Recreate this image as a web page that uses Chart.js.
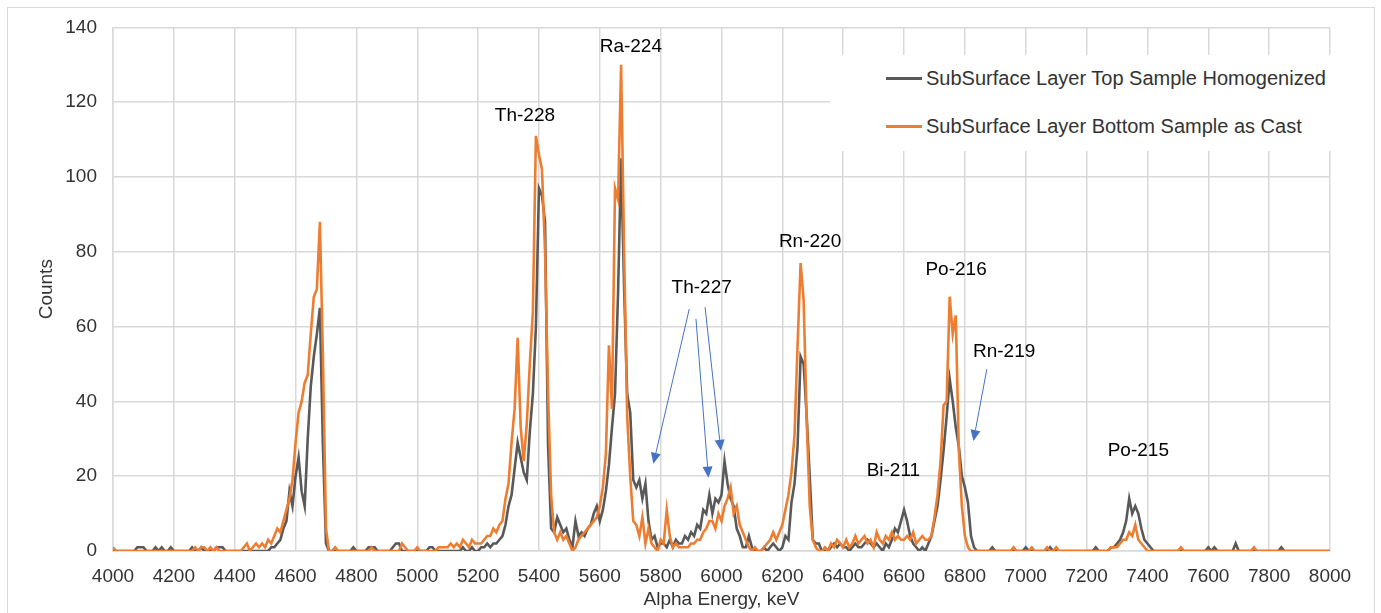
<!DOCTYPE html>
<html>
<head>
<meta charset="utf-8">
<script src="https://cdn.jsdelivr.net/npm/chart.js@4.4.1/dist/chart.umd.min.js"></script>
<style>
    body { margin: 0; background: #fff; font-family: 'Liberation Sans', Arial, sans-serif; }
    #wrap { position: relative; width: 1381px; height: 613px; overflow: hidden; }
    #frame { position: absolute; left: 7px; top: 7px; width: 1366px; height: 700px; border: 1px solid #d9d9d9; pointer-events: none; }
    #legend { position: absolute; left: 830px; top: 55px; width: 510px; height: 96px; background: #fff; color: #333; font-size: 20px; }
    .item { position: absolute; left: 56px; height: 24px; }
    .item span.swatch { position: absolute; left: 0; top: 11px; width: 36px; height: 2.5px; }
    .item span.txt { position: absolute; left: 40px; top: 0; white-space: nowrap; line-height: 24px; }
</style>
</head>
<body>
<div id="wrap">
    <canvas id="spectrum"></canvas>
    <div id="frame"></div>
    <div id="legend"></div>
</div>
<script>
// Energie-Kanaele (keV)
const energies = [
    4000,4010,4020,4030,4040,4050,4060,4070,4080,4090,
    4100,4110,4120,4130,4140,4150,4160,4170,4180,4190,
    4200,4210,4220,4230,4240,4250,4260,4270,4280,4290,
    4300,4310,4320,4330,4340,4350,4360,4370,4380,4390,
    4400,4410,4420,4430,4440,4450,4460,4470,4480,4490,
    4500,4510,4520,4530,4540,4550,4560,4570,4580,4590,
    4600,4610,4620,4630,4640,4650,4660,4670,4680,4690,
    4700,4710,4720,4730,4740,4750,4760,4770,4780,4790,
    4800,4810,4820,4830,4840,4850,4860,4870,4880,4890,
    4900,4910,4920,4930,4940,4950,4960,4970,4980,4990,
    5000,5010,5020,5030,5040,5050,5060,5070,5080,5090,
    5100,5110,5120,5130,5140,5150,5160,5170,5180,5190,
    5200,5210,5220,5230,5240,5250,5260,5270,5280,5290,
    5300,5310,5320,5330,5340,5350,5360,5370,5380,5390,
    5400,5410,5420,5430,5440,5450,5460,5470,5480,5490,
    5500,5510,5520,5530,5540,5550,5560,5570,5580,5590,
    5600,5610,5620,5630,5640,5650,5660,5670,5680,5690,
    5700,5710,5720,5730,5740,5750,5760,5770,5780,5790,
    5800,5810,5820,5830,5840,5850,5860,5870,5880,5890,
    5900,5910,5920,5930,5940,5950,5960,5970,5980,5990,
    6000,6010,6020,6030,6040,6050,6060,6070,6080,6090,
    6100,6110,6120,6130,6140,6150,6160,6170,6180,6190,
    6200,6210,6220,6230,6240,6250,6260,6270,6280,6290,
    6300,6310,6320,6330,6340,6350,6360,6370,6380,6390,
    6400,6410,6420,6430,6440,6450,6460,6470,6480,6490,
    6500,6510,6520,6530,6540,6550,6560,6570,6580,6590,
    6600,6610,6620,6630,6640,6650,6660,6670,6680,6690,
    6700,6710,6720,6730,6740,6750,6760,6770,6780,6790,
    6800,6810,6820,6830,6840,6850,6860,6870,6880,6890,
    6900,6910,6920,6930,6940,6950,6960,6970,6980,6990,
    7000,7010,7020,7030,7040,7050,7060,7070,7080,7090,
    7100,7110,7120,7130,7140,7150,7160,7170,7180,7190,
    7200,7210,7220,7230,7240,7250,7260,7270,7280,7290,
    7300,7310,7320,7330,7340,7350,7360,7370,7380,7390,
    7400,7410,7420,7430,7440,7450,7460,7470,7480,7490,
    7500,7510,7520,7530,7540,7550,7560,7570,7580,7590,
    7600,7610,7620,7630,7640,7650,7660,7670,7680,7690,
    7700,7710,7720,7730,7740,7750,7760,7770,7780,7790,
    7800,7810,7820,7830,7840,7850,7860,7870,7880,7890,
    7900,7910,7920,7930,7940,7950,7960,7970,7980,7990,
    8000
];

// SubSurface Layer Top Sample Homogenized
const topCounts = [
    0,0,0,0,0,0,0,0,1,1,
    1,0,0,0,1,0,1,0,0,1,
    0,0,0,0,0,0,1,0,0,1,
    0,0,0,0,1,1,1,0,0,0,
    0,0,0,0,0,0,0,0,0,0,
    0,0,1,1,2,3,6,8,16,12,
    20,25,16,12,30,44,52,58,65,28,
    2,0,0,0,0,0,0,0,0,1,
    0,0,0,0,1,1,1,0,0,0,
    0,0,1,2,2,0,0,0,0,0,
    0,0,0,0,1,1,0,0,0,0,
    0,0,0,0,0,1,0,0,1,0,
    0,1,1,2,1,2,2,3,4,7,
    12,15,22,29,25,21,19,32,42,60,
    97,95,88,28,6,5,9,7,5,6,
    3,1,8,4,5,4,6,7,10,12,
    8,11,16,23,33,42,69,105,70,42,
    37,19,17,19,14,18,8,3,4,1,
    2,2,1,3,1,3,2,2,4,3,
    5,4,7,6,11,10,15,10,14,13,
    15,24,18,14,12,6,4,1,1,4,
    1,0,0,0,1,0,1,2,1,0,
    1,4,3,13,18,28,52,50,36,20,
    3,2,2,0,0,0,1,2,1,2,
    1,1,0,1,2,1,1,2,3,2,
    1,2,1,0,2,1,3,6,5,8,
    11,8,4,2,1,0,1,0,2,4,
    8,12,19,27,36,46,40,33,28,20,
    17,13,4,1,0,0,0,0,0,1,
    0,0,0,0,0,0,0,0,0,0,
    1,0,0,0,0,0,0,0,1,0,
    0,0,0,0,0,0,0,0,0,0,
    0,0,0,1,0,0,0,0,1,1,
    2,3,5,8,14,10,12,10,6,3,
    2,1,0,0,0,0,0,0,0,0,
    0,0,0,0,0,0,0,0,0,0,
    1,0,1,0,0,0,0,0,0,2,
    0,0,0,0,0,0,0,0,0,0,
    0,0,0,0,1,0,0,0,0,0,
    0,0,0,0,0,0,0,0,0,0,
    0
];

// SubSurface Layer Bottom Sample as Cast
const bottomCounts = [
    1,0,0,0,0,0,0,0,0,0,
    0,0,0,0,0,0,0,0,0,0,
    0,0,0,0,0,0,0,1,0,1,
    1,0,1,0,1,0,0,0,0,0,
    0,0,0,1,2,0,1,2,1,2,
    1,3,2,4,6,5,8,11,14,19,
    29,37,40,45,47,58,68,70,88,52,
    6,0,0,1,0,0,0,0,0,0,
    0,0,0,0,0,1,0,0,0,0,
    0,0,0,0,0,2,1,0,0,0,
    1,0,0,0,0,0,0,1,1,1,
    1,2,1,2,1,3,2,1,3,2,
    2,2,3,4,4,6,5,7,8,14,
    18,29,38,57,33,24,34,50,64,111,
    106,102,80,42,15,5,3,5,3,4,
    2,0,1,3,4,5,6,7,8,9,
    12,17,26,55,38,97,94,130,80,36,
    20,8,7,4,9,2,6,2,1,0,
    3,2,11,4,1,2,1,1,1,1,
    2,2,3,3,5,6,8,8,6,10,
    8,12,14,17,10,12,7,5,3,1,
    0,1,0,0,1,2,3,5,3,5,
    7,11,15,21,31,55,77,67,35,12,
    3,1,0,0,1,0,2,1,3,2,
    1,3,1,2,4,2,3,4,2,3,
    1,5,3,2,4,3,5,3,4,3,
    3,4,3,5,2,3,4,3,3,4,
    9,15,24,39,40,68,58,63,27,12,
    4,1,0,0,0,0,0,0,0,0,
    0,0,0,0,0,0,1,0,0,0,
    0,0,1,0,0,0,0,1,0,0,
    1,0,0,0,0,0,0,0,0,0,
    0,0,0,0,0,0,0,0,1,1,
    1,2,3,3,5,4,7,3,2,1,
    0,0,0,0,0,0,0,0,0,0,
    0,1,0,0,0,0,0,0,0,0,
    0,0,0,0,0,0,0,0,0,0,
    0,0,0,0,0,1,0,0,0,0,
    0,0,0,0,0,0,0,0,0,0,
    0,0,0,0,0,0,0,0,0,0,
    0
];

const seriesNames = ['SubSurface Layer Top Sample Homogenized', 'SubSurface Layer Bottom Sample as Cast'];
const seriesColors = ['#595959', '#ED7D31'];

// Nuklid-Beschriftungen (Position in keV / Counts)
const peakNames = ['Ra-224', 'Th-228', 'Th-227', 'Rn-220', 'Po-216', 'Rn-219', 'Bi-211', 'Po-215'];
const peakLabelE = [5702, 5354, 5935, 6291, 6771, 6929, 6565, 7370];
const peakLabelC = [134.9, 116.3, 70.4, 82.8, 75.3, 53.3, 21.5, 26.9];

// Pfeile: Start -> Spitze
const arrows = [
    { from: [5894, 64.7], to: [5776, 23.3] },
    { from: [5916, 62.1], to: [5957, 19.6] },
    { from: [5946, 65.2], to: [5998, 26.8] },
    { from: [6872, 48.6], to: [6828, 29.4] }
];

const FONT = "'Liberation Sans', Arial, sans-serif";

// Legende als HTML
const legendBox = document.getElementById('legend');
seriesNames.forEach((name, i) => {
    const row = document.createElement('div');
    row.className = 'item';
    row.style.top = (i === 0 ? 11 : 59) + 'px';
    row.innerHTML = '<span class="swatch" style="background:' + seriesColors[i] + '"></span><span class="txt">' + name + '</span>';
    legendBox.appendChild(row);
});

const annotationPlugin = {
    id: 'peakNotes',
    afterDatasetsDraw(chart) {
        const ctx = chart.ctx;
        const xs = chart.scales.x, ys = chart.scales.y;
        ctx.save();
        ctx.fillStyle = '#000';
        ctx.font = '19px ' + FONT;
        ctx.textAlign = 'center';
        ctx.textBaseline = 'middle';
        peakNames.forEach((t, i) => {
            ctx.fillText(t, xs.getPixelForValue(peakLabelE[i]), ys.getPixelForValue(peakLabelC[i]));
        });

        ctx.strokeStyle = '#4472C4';
        ctx.fillStyle = '#4472C4';
        ctx.lineWidth = 1;
        arrows.forEach(a => {
            const x1 = xs.getPixelForValue(a.from[0]), y1 = ys.getPixelForValue(a.from[1]);
            const x2 = xs.getPixelForValue(a.to[0]), y2 = ys.getPixelForValue(a.to[1]);
            const ang = Math.atan2(y2 - y1, x2 - x1);
            const head = 11, half = 5;
            const bx = x2 - head * Math.cos(ang), by = y2 - head * Math.sin(ang);
            ctx.beginPath();
            ctx.moveTo(x1, y1);
            ctx.lineTo(bx, by);
            ctx.stroke();
            ctx.beginPath();
            ctx.moveTo(x2, y2);
            ctx.lineTo(bx + half * Math.sin(ang), by - half * Math.cos(ang));
            ctx.lineTo(bx - half * Math.sin(ang), by + half * Math.cos(ang));
            ctx.closePath();
            ctx.fill();
        });
        ctx.restore();
    }
};

const ctxEl = document.getElementById('spectrum');
new Chart(ctxEl, {
    type: 'line',
    data: {
        datasets: [
            {
                label: seriesNames[0],
                data: energies.map((e, i) => ({ x: e, y: topCounts[i] })),
                borderColor: seriesColors[0],
                borderWidth: 2.6,
                pointRadius: 0,
                tension: 0,
                order: 1
            },
            {
                label: seriesNames[1],
                data: energies.map((e, i) => ({ x: e, y: bottomCounts[i] })),
                borderColor: seriesColors[1],
                borderWidth: 2.6,
                pointRadius: 0,
                tension: 0,
                order: 0
            }
        ]
    },
    options: {
        responsive: true,
        maintainAspectRatio: false,
        animation: false,
        layout: {
            padding: { top: 23, right: 51, left: 0, bottom: 0 }
        },
        plugins: {
            legend: { display: false },
            tooltip: { enabled: false }
        },
        scales: {
            x: {
                type: 'linear',
                min: 4000,
                max: 8000,
                grid: { color: '#d9d9d9', lineWidth: 1.5, drawTicks: false },
                border: { color: '#d9d9d9', width: 1.5 },
                ticks: {
                    stepSize: 200,
                    autoSkip: false,
                    maxRotation: 0,
                    padding: 14,
                    color: '#333',
                    font: { family: FONT, size: 19 },
                    callback: function(value) { return String(value); }
                },
                title: {
                    display: true,
                    text: 'Alpha Energy, keV',
                    color: '#333',
                    font: { family: FONT, size: 19 },
                    padding: { top: 0, bottom: 2 }
                },
                afterFit: function(scale) { scale.height = 62; }
            },
            y: {
                min: 0,
                max: 140,
                grid: { color: '#d9d9d9', lineWidth: 1.5, drawTicks: false },
                border: { color: '#d9d9d9', width: 1.5 },
                ticks: {
                    stepSize: 20,
                    padding: 16,
                    color: '#333',
                    font: { family: FONT, size: 19 }
                },
                title: {
                    display: true,
                    text: 'Counts',
                    color: '#333',
                    font: { family: FONT, size: 19 },
                    padding: { top: 35, bottom: 0 }
                },
                afterFit: function(scale) { scale.width = 113; }
            }
        }
    },
    plugins: [annotationPlugin]
});
</script>
</body>
</html>
